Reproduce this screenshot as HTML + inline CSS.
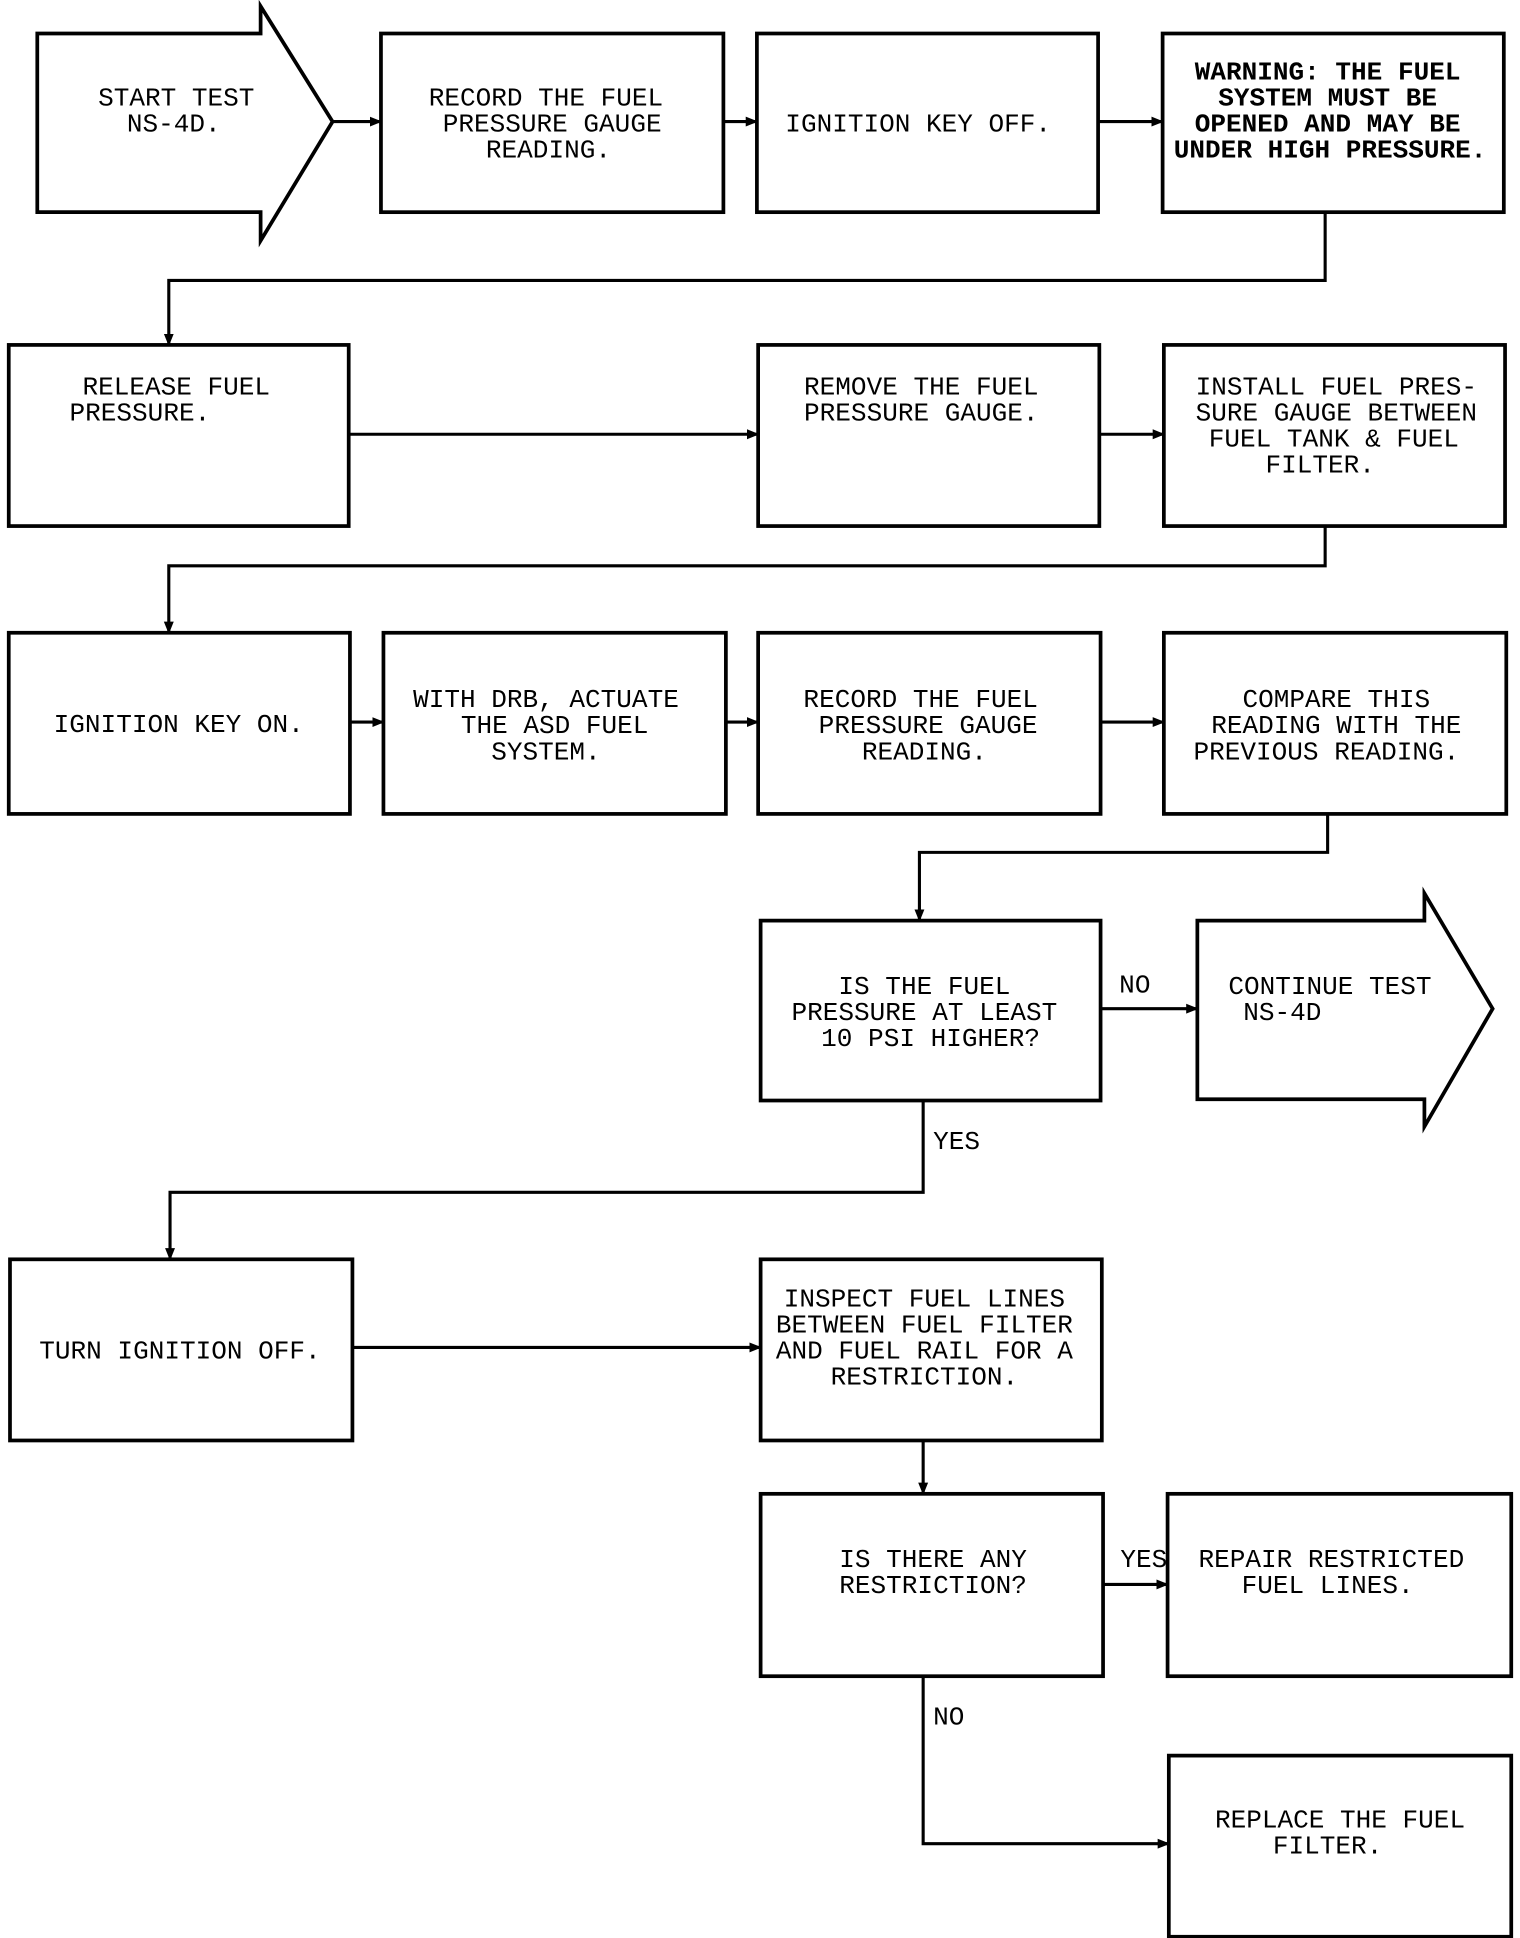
<!DOCTYPE html>
<html><head><meta charset="utf-8"><style>
html,body{margin:0;padding:0;background:#fff;}
svg{display:block}
text{font-family:"Liberation Mono",monospace;font-size:21px;fill:#000;}
</style></head><body>
<svg width="1520" height="1938" viewBox="0 0 1225 1562" xmlns="http://www.w3.org/2000/svg">
<defs><marker id="a" markerWidth="10" markerHeight="10" refX="9" refY="5" orient="auto" markerUnits="userSpaceOnUse"><path d="M0,1 L10,5 L0,9 z" fill="#000"/></marker></defs>
<g fill="none" stroke="#000" stroke-width="3">
<path d="M30,27 H210 V5 L268,98 L210,194 V171 H30 Z"/>
<rect x="307" y="27" width="276" height="144"/>
<rect x="610" y="27" width="275" height="144"/>
<rect x="937" y="27" width="275" height="144"/>
<rect x="7" y="278" width="274" height="146"/>
<rect x="611" y="278" width="275" height="146"/>
<rect x="938" y="278" width="275" height="146"/>
<rect x="7" y="510" width="275" height="146"/>
<rect x="309" y="510" width="276" height="146"/>
<rect x="611" y="510" width="276" height="146"/>
<rect x="938" y="510" width="276" height="146"/>
<rect x="613" y="742" width="274" height="145"/>
<path d="M965,742 H1148 V720 L1203,813 L1148,908 V886 H965 Z"/>
<rect x="8" y="1015" width="276" height="146"/>
<rect x="613" y="1015" width="275" height="146"/>
<rect x="613" y="1204" width="276" height="147"/>
<rect x="941" y="1204" width="277" height="147"/>
<rect x="942" y="1415" width="276" height="146"/>
</g>
<g fill="none" stroke="#000" stroke-width="2.5" marker-end="url(#a)">
<path d="M268,98 H307"/>
<path d="M583,98 H610"/>
<path d="M885,98 H937"/>
<path d="M1068,171 V226 H136 V278"/>
<path d="M281,350 H611"/>
<path d="M886,350 H938"/>
<path d="M1068,424 V456 H136 V510"/>
<path d="M282,582 H309"/>
<path d="M585,582 H611"/>
<path d="M887,582 H938"/>
<path d="M1070,656 V687 H741 V742"/>
<path d="M887,813 H965"/>
<path d="M744,887 V961 H137 V1015"/>
<path d="M284,1086 H613"/>
<path d="M744,1161 V1204"/>
<path d="M889,1277 H941"/>
<path d="M744,1351 V1486 H942"/>
</g>
<g text-anchor="middle">
<text x="142" y="85">START TEST</text><text x="140" y="106">NS-4D.</text>
<text x="440" y="85">RECORD THE FUEL</text><text x="445" y="106">PRESSURE GAUGE</text><text x="442" y="127">READING.</text>
<text x="740" y="106">IGNITION KEY OFF.</text>
<g font-weight="bold"><text x="1070" y="64">WARNING: THE FUEL</text><text x="1070" y="85">SYSTEM MUST BE</text><text x="1070" y="106">OPENED AND MAY BE</text><text x="1072" y="127">UNDER HIGH PRESSURE.</text></g>
<text x="142" y="318">RELEASE FUEL</text>
<text x="1077" y="318">INSTALL FUEL PRES-</text><text x="1077" y="339">SURE GAUGE BETWEEN</text><text x="1075" y="360">FUEL TANK &amp; FUEL</text><text x="1064" y="381">FILTER.</text>
<text x="144" y="590">IGNITION KEY ON.</text>
<text x="440" y="570">WITH DRB, ACTUATE</text><text x="447" y="591">THE ASD FUEL</text><text x="440" y="612">SYSTEM.</text>
<text x="742" y="570">RECORD THE FUEL</text><text x="748" y="591">PRESSURE GAUGE</text><text x="745" y="612">READING.</text>
<text x="1077" y="570">COMPARE THIS</text><text x="1077" y="591">READING WITH THE</text><text x="1069" y="612">PREVIOUS READING.</text>
<text x="745" y="801">IS THE FUEL</text><text x="745" y="822">PRESSURE AT LEAST</text><text x="750" y="843">10 PSI HIGHER?</text>
<text x="145" y="1095">TURN IGNITION OFF.</text>
<text x="745" y="1053">INSPECT FUEL LINES</text><text x="745" y="1074">BETWEEN FUEL FILTER</text><text x="745" y="1095">AND FUEL RAIL FOR A</text><text x="745" y="1116">RESTRICTION.</text>
<text x="752" y="1263">IS THERE ANY</text><text x="752" y="1284">RESTRICTION?</text>
<text x="1073" y="1263">REPAIR RESTRICTED</text><text x="1070" y="1284">FUEL LINES.</text>
<text x="1080" y="1473">REPLACE THE FUEL</text><text x="1070" y="1494">FILTER.</text>
</g>
<text x="56" y="339">PRESSURE.</text>
<text x="648" y="318">REMOVE THE FUEL</text><text x="648" y="339">PRESSURE GAUGE.</text>
<text x="990" y="801">CONTINUE TEST</text><text x="1002" y="822">NS-4D</text>
<text x="902" y="800">NO</text>
<text x="752" y="926">YES</text>
<text x="903" y="1263">YES</text>
<text x="752" y="1390">NO</text>
</svg>
</body></html>
